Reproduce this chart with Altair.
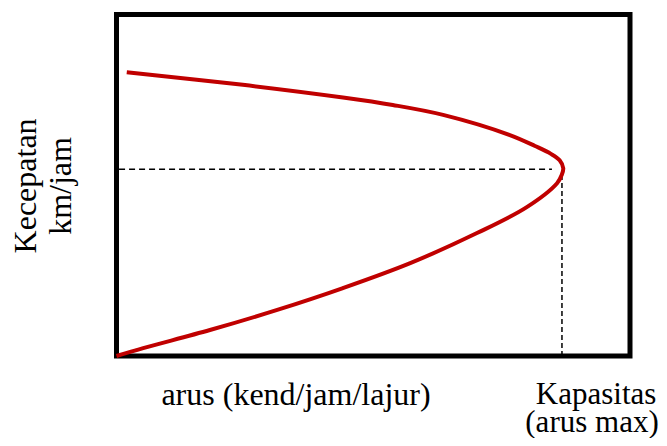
import altair as alt
import pandas as pd

# Speed-flow curve, traced along the path from the origin up to free-flow speed
flow = [0.0, 5.2, 18.2, 31.3, 44.1, 57.2, 70.2, 79.9, 85.8, 86.7, 87.0, 86.3, 84.6, 81.5, 76.6, 63.6, 53.8, 44.1, 24.6, 2.0]
speed = [0.0, 2.3, 7.6, 13.5, 19.9, 27.2, 36.0, 43.6, 50.6, 53.0, 55.0, 57.3, 59.2, 61.5, 64.7, 70.6, 73.5, 75.7, 79.4, 83.1]

# Capacity point (dashed guides)
cap_flow = 86.75
cap_speed = 54.7
h_dash_end = 84.8
v_dash_top = 53.9

# Labels
label_text = ["arus (kend/jam/lajur)", "Kapasitas", "(arus max)"]
label_x = [34.96, 93.4, 92.6]
label_y = [-14.3, -14.05, -22.25]
label_size = [32, 31, 31]

ylab_text = ["Kecepatan", "km/jam"]
ylab_x = [-17.6, -10.8]
ylab_y = [49.8, 49.8]

curve_df = pd.DataFrame({"flow": flow, "speed": speed, "order": list(range(len(flow)))})
xs = alt.Scale(domain=[0, 100], nice=False, zero=False)
ys = alt.Scale(domain=[0, 100], nice=False, zero=False)

curve = alt.Chart(curve_df).mark_line(
    color="#C00000", strokeWidth=4, interpolate="catmull-rom", strokeCap="butt"
).encode(
    x=alt.X("flow:Q", scale=xs, axis=None),
    y=alt.Y("speed:Q", scale=ys, axis=None),
    order="order:Q",
)

hdash = alt.Chart(pd.DataFrame({"x": [0.5], "x2": [h_dash_end], "y": [cap_speed]})).mark_rule(
    color="black", strokeWidth=1.5, strokeDash=[6, 4]
).encode(x=alt.X("x:Q", scale=xs, axis=None), x2="x2:Q", y=alt.Y("y:Q", scale=ys, axis=None))

vdash = alt.Chart(pd.DataFrame({"x": [cap_flow], "y": [0], "y2": [v_dash_top]})).mark_rule(
    color="black", strokeWidth=1.5, strokeDash=[5, 3]
).encode(x=alt.X("x:Q", scale=xs, axis=None), y=alt.Y("y:Q", scale=ys, axis=None), y2="y2:Q")

labels = alt.Chart(pd.DataFrame({"t": label_text, "x": label_x, "y": label_y, "s": label_size})).mark_text(
    font="Liberation Serif", color="black", align="center", baseline="alphabetic"
).encode(
    x=alt.X("x:Q", scale=xs, axis=None),
    y=alt.Y("y:Q", scale=ys, axis=None),
    text="t:N",
    size=alt.Size("s:Q", scale=None, legend=None),
)

ylabels = alt.Chart(pd.DataFrame({"t": ylab_text, "x": ylab_x, "y": ylab_y})).mark_text(
    font="Liberation Serif", fontSize=32, color="black", align="center", baseline="middle", angle=270
).encode(x=alt.X("x:Q", scale=xs, axis=None), y=alt.Y("y:Q", scale=ys, axis=None), text="t:N")

chart = alt.layer(hdash, vdash, curve, labels, ylabels).properties(
    width=513.5,
    height=341.5,
    autosize=alt.AutoSizeParams(type="none"),
    padding={"left": 108.5, "top": 6.5, "right": 29, "bottom": 82},
).configure_view(stroke="black", strokeWidth=5)

chart.save("out.html", embed_options={"renderer": "svg", "actions": False})
